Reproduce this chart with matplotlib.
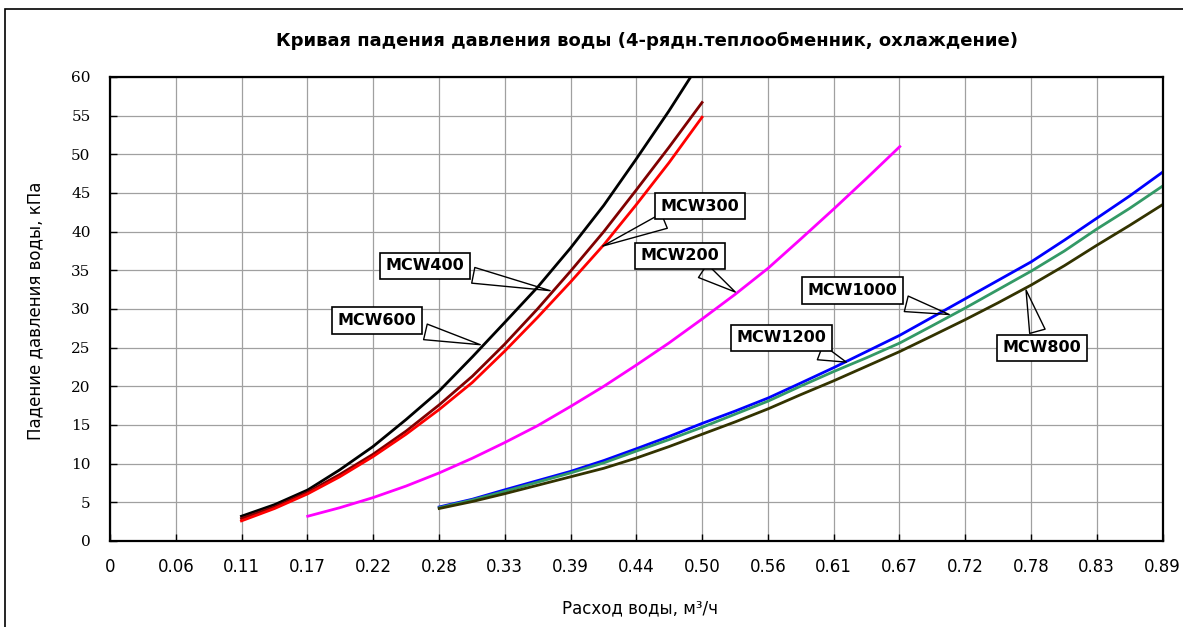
import matplotlib
matplotlib.use("Agg")
import matplotlib.pyplot as plt
from matplotlib.patches import Rectangle

# flow rate, m3/h
FLOW = [0.111, 0.139, 0.167, 0.194, 0.222, 0.250, 0.278, 0.306, 0.333, 0.361,
        0.389, 0.417, 0.444, 0.472, 0.500, 0.528, 0.556, 0.583, 0.611, 0.639,
        0.667, 0.694, 0.722, 0.750, 0.778, 0.806, 0.833, 0.861, 0.889]

# pressure drop, kPa
mcw600 = [3.2, 4.7, 6.6, 9.2, 12.2, 15.7, 19.4, 23.8, 28.2, 32.8, 37.9, 43.4, 49.3, 55.6, 62.3]
mcw400 = [2.9, 4.4, 6.3, 8.6, 11.2, 14.2, 17.6, 21.3, 25.4, 30.0, 34.9, 40.0, 45.3, 50.9, 56.7]
mcw300 = [2.6, 4.2, 6.1, 8.3, 10.9, 13.8, 17.0, 20.5, 24.5, 28.9, 33.5, 38.3, 43.4, 48.9, 54.8]
mcw200 = [3.2, 4.3, 5.6, 7.1, 8.8, 10.7, 12.7, 14.9, 17.4, 20.0, 22.7, 25.6, 28.7, 31.9,
          35.3, 39.0, 42.9, 46.9, 51.0]
mcw1200 = [4.4, 5.4, 6.6, 7.8, 9.0, 10.4, 11.9, 13.5, 15.2, 16.8, 18.5, 20.4, 22.4, 24.5,
           26.6, 28.9, 31.3, 33.7, 36.1, 38.9, 41.7, 44.6, 47.7]
mcw1000 = [4.3, 5.3, 6.4, 7.6, 8.8, 10.1, 11.6, 13.1, 14.7, 16.4, 18.1, 20.0, 21.9, 23.7,
           25.6, 27.8, 30.1, 32.5, 34.9, 37.5, 40.3, 43.0, 45.9]
mcw800 = [4.2, 5.1, 6.1, 7.2, 8.3, 9.4, 10.7, 12.2, 13.8, 15.4, 17.1, 18.9, 20.7, 22.6,
          24.5, 26.5, 28.6, 30.8, 33.1, 35.6, 38.2, 40.8, 43.5]

TICK_VALUES = [0, 0.0556, 0.1111, 0.1667, 0.2222, 0.2778, 0.3333, 0.3889, 0.4444,
               0.5, 0.5556, 0.6111, 0.6667, 0.7222, 0.7778, 0.8333, 0.8889]
TICK_LABELS = ["0", "0.06", "0.11", "0.17", "0.22", "0.28", "0.33", "0.39", "0.44",
               "0.50", "0.56", "0.61", "0.67", "0.72", "0.78", "0.83", "0.89"]

fig = plt.figure(figsize=(11.83, 6.27), dpi=100)
ax = fig.add_axes([0.093, 0.1372, 0.8897, 0.74])

# outer chart frame
fig.patches.append(Rectangle((0.004, -0.05), 1.1, 1.0356, transform=fig.transFigure,
                             fill=False, ec="black", lw=1.2))

# (values, index of first flow point, colour)
series = [
    (mcw600, 0, "black"),
    (mcw400, 0, "#800000"),
    (mcw300, 0, "#FF0000"),
    (mcw200, 2, "#FF00FF"),
    (mcw1200, 6, "#0000FF"),
    (mcw1000, 6, "#339966"),
    (mcw800, 6, "#333300"),
]
for vals, start, color in series:
    ax.plot(FLOW[start:start + len(vals)], vals, color=color, lw=2)

ax.set_xlim(0, 0.8889)
ax.set_ylim(0, 60)
ax.set_xticks(TICK_VALUES)
ax.set_xticklabels(TICK_LABELS, fontsize=12)
ax.set_yticks(range(0, 61, 5))
for lab in ax.get_yticklabels():
    lab.set_fontfamily("DejaVu Serif")
    lab.set_fontsize(11)
ax.tick_params(axis="both", direction="in", length=5, width=1)
ax.tick_params(axis="x", pad=12)
ax.tick_params(axis="y", pad=14)
ax.grid(True, color="#A0A0A0", lw=0.9)
ax.set_axisbelow(True)
for sp in ax.spines.values():
    sp.set_linewidth(1.6)

fig.text(0.547, 0.934, "Кривая падения давления воды (4-рядн.теплообменник, охлаждение)",
         ha="center", va="center", fontsize=13, fontweight="bold")
fig.text(0.541, 0.030, "Расход воды, м³/ч", ha="center", va="center", fontsize=12)
fig.text(0.030, 0.505, "Падение давления воды, кПа", ha="center", va="center",
         rotation=90, fontsize=12)

# callout labels: text, tip point, box centre
callouts = [
    ("MCW600", (0.315, 25.3), (0.2256, 28.5)),
    ("MCW400", (0.374, 32.3), (0.266, 35.6)),
    ("MCW300", (0.414, 38.0), (0.4985, 43.3)),
    ("MCW200", (0.530, 32.0), (0.481, 36.9)),
    ("MCW1000", (0.711, 29.2), (0.627, 32.4)),
    ("MCW1200", (0.624, 23.0), (0.567, 26.3)),
    ("MCW800", (0.773, 32.8), (0.787, 25.0)),
]
for name, tip, centre in callouts:
    ax.annotate(name, xy=tip, xytext=centre, ha="center", va="center",
                fontsize=11.5, fontweight="bold",
                bbox=dict(boxstyle="square,pad=0.35", fc="white", ec="black", lw=1.2),
                arrowprops=dict(arrowstyle="wedge,tail_width=1.0,shrink_factor=0.5",
                                fc="none", ec="black", lw=1))

fig.savefig("out.png", dpi=100)
